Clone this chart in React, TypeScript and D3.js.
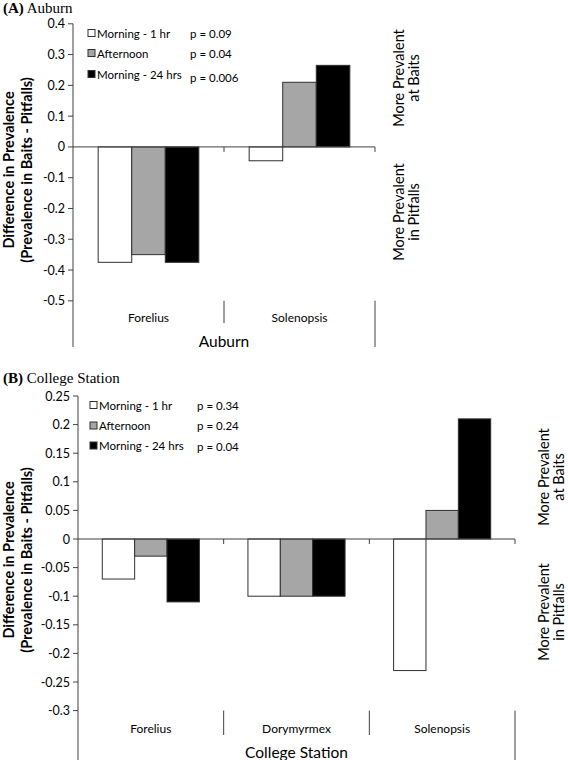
import React from "react";
import * as d3 from "d3";

const seriesNames = ["Morning - 1 hr", "Afternoon", "Morning - 24 hrs"];
const seriesFills = ["#ffffff", "#a6a6a6", "#000000"];

const auburnCategories = ["Forelius", "Solenopsis"];
const auburnMorning1hr = [-0.375, -0.045];
const auburnAfternoon = [-0.35, 0.21];
const auburnMorning24hrs = [-0.375, 0.265];
const auburnPValues = ["p = 0.09", "p = 0.04", "p = 0.006"];
const auburnTicks = [0.4, 0.3, 0.2, 0.1, 0, -0.1, -0.2, -0.3, -0.4, -0.5];

const csCategories = ["Forelius", "Dorymyrmex", "Solenopsis"];
const csMorning1hr = [-0.07, -0.1, -0.23];
const csAfternoon = [-0.03, -0.1, 0.05];
const csMorning24hrs = [-0.11, -0.1, 0.21];
const csPValues = ["p = 0.34", "p = 0.24", "p = 0.04"];
const csTicks = [0.25, 0.2, 0.15, 0.1, 0.05, 0, -0.05, -0.1, -0.15, -0.2, -0.25, -0.3];

const FONT = "Lato, 'Open Sans', sans-serif";
const AXIS = "#404040";

type PanelProps = {
  letter: string;
  site: string;
  categories: string[];
  series: number[][];
  pValues: string[];
  ticks: number[];
  L: {
    x0: number; x1: number; yTop: number; yBot: number;
    axisBottom: number; sepBottom: number; catY: number; siteY: number;
    titleY: number; legendX: number; pX: number; legendY: number[]; pY: number[];
    yTitleY: number; rightX1: number; rightX2: number; rightUpY: number; rightDownY: number;
  };
};

function Panel({ letter, site, categories, series, pValues, ticks, L }: PanelProps) {
  const y = d3.scaleLinear().domain([ticks[ticks.length - 1], ticks[0]]).range([L.yBot, L.yTop]);
  const x = d3.scaleBand().domain(categories).range([L.x0, L.x1]).paddingInner(0).paddingOuter(0);
  const xi = d3.scaleBand().domain(seriesNames).range([0, x.step()]).paddingInner(0).paddingOuter(0.75);
  const y0 = y(0);
  const boundaries = categories.map((c) => (x(c) as number) + x.step());
  return (
    <g>
      <text x={3} y={L.titleY} fontFamily="'Liberation Serif', 'Times New Roman', serif" fontSize={15}>
        <tspan fontWeight="bold">({letter})</tspan> {site}
      </text>
      {/* bars */}
      {series.map((vals, si) =>
        categories.map((c, ci) => {
          const v = vals[ci];
          const bx = (x(c) as number) + (xi(seriesNames[si]) as number);
          return (
            <rect key={si + "-" + ci} x={bx} y={Math.min(y(v), y0)} width={xi.bandwidth()}
              height={Math.abs(y(v) - y0)} fill={seriesFills[si]} stroke="#303030" strokeWidth={1} />
          );
        })
      )}
      {/* y axis */}
      <line x1={L.x0} x2={L.x0} y1={L.yTop} y2={L.axisBottom} stroke={AXIS} />
      {ticks.map((t) => (
        <g key={t}>
          <line x1={L.x0 - 5} x2={L.x0} y1={y(t)} y2={y(t)} stroke={AXIS} />
          <text x={L.x0 - 8} y={y(t)} textAnchor="end" dominantBaseline="central"
            fontFamily={FONT} fontSize={12.5}>{String(t)}</text>
        </g>
      ))}
      {/* zero line */}
      <line x1={L.x0} x2={L.x1} y1={y0} y2={y0} stroke={AXIS} />
      {boundaries.map((b) => (
        <line key={"zt" + b} x1={b} x2={b} y1={y0} y2={y0 + 5} stroke={AXIS} />
      ))}
      {/* category axis */}
      {boundaries.map((b, i) => (
        <line key={"sep" + b} x1={b} x2={b} y1={L.yBot} y2={i === boundaries.length - 1 ? L.axisBottom : L.sepBottom} stroke={AXIS} />
      ))}
      {categories.map((c) => (
        <text key={"cl" + c} x={(x(c) as number) + x.step() / 2} y={L.catY} textAnchor="middle"
          dominantBaseline="central" fontFamily={FONT} fontSize={12}>{c}</text>
      ))}
      <text x={(L.x0 + L.x1) / 2} y={L.siteY} textAnchor="middle" dominantBaseline="central"
        fontFamily={FONT} fontSize={15.5}>{site}</text>
      {/* legend */}
      {seriesNames.map((s, i) => (
        <g key={"lg" + s}>
          <rect x={L.legendX} y={L.legendY[i] - 3.5} width={7} height={7} fill={seriesFills[i]} stroke="#303030" />
          <text x={L.legendX + 9} y={L.legendY[i]} dominantBaseline="central" fontFamily={FONT} fontSize={11.5}>{s}</text>
          <text x={L.pX} y={L.pY[i]} dominantBaseline="central" fontFamily={FONT} fontSize={11.5}>{pValues[i]}</text>
        </g>
      ))}
      {/* y title */}
      <g transform={`translate(8,${L.yTitleY}) rotate(-90)`}>
        <text textAnchor="middle" dominantBaseline="central" fontFamily={FONT} fontSize={14.5} fontWeight="bold">Difference in Prevalence</text>
      </g>
      <g transform={`translate(26,${L.yTitleY}) rotate(-90)`}>
        <text textAnchor="middle" dominantBaseline="central" fontFamily={FONT} fontSize={14.5} fontWeight="bold">(Prevalence in Baits - Pitfalls)</text>
      </g>
      {/* right labels */}
      <g transform={`translate(${L.rightX1},${L.rightUpY}) rotate(-90)`}>
        <text textAnchor="middle" dominantBaseline="central" fontFamily={FONT} fontSize={14.5}>More Prevalent</text>
      </g>
      <g transform={`translate(${L.rightX2},${L.rightUpY}) rotate(-90)`}>
        <text textAnchor="middle" dominantBaseline="central" fontFamily={FONT} fontSize={14.5}>at Baits</text>
      </g>
      <g transform={`translate(${L.rightX1},${L.rightDownY}) rotate(-90)`}>
        <text textAnchor="middle" dominantBaseline="central" fontFamily={FONT} fontSize={14.5}>More Prevalent</text>
      </g>
      <g transform={`translate(${L.rightX2},${L.rightDownY}) rotate(-90)`}>
        <text textAnchor="middle" dominantBaseline="central" fontFamily={FONT} fontSize={14.5}>in Pitfalls</text>
      </g>
    </g>
  );
}

export default function App() {
  return (
    <svg width={568} height={760} style={{ position: "absolute", left: 0, top: 0, background: "#fff" }}>
      <rect width={568} height={760} fill="#fff" />
      <Panel
        letter="A"
        site="Auburn"
        categories={auburnCategories}
        series={[auburnMorning1hr, auburnAfternoon, auburnMorning24hrs]}
        pValues={auburnPValues}
        ticks={auburnTicks}
        L={{
          x0: 73, x1: 375, yTop: 23.8, yBot: 300.8, axisBottom: 347, sepBottom: 323,
          catY: 317, siteY: 341, titleY: 13, legendX: 88, pX: 190,
          legendY: [33, 53, 74], pY: [33, 53, 77], yTitleY: 170,
          rightX1: 398, rightX2: 413, rightUpY: 78, rightDownY: 212,
        }}
      />
      <Panel
        letter="B"
        site="College Station"
        categories={csCategories}
        series={[csMorning1hr, csAfternoon, csMorning24hrs]}
        pValues={csPValues}
        ticks={csTicks}
        L={{
          x0: 78, x1: 515, yTop: 396, yBot: 710.6, axisBottom: 760, sepBottom: 735,
          catY: 728, siteY: 752, titleY: 383, legendX: 90, pX: 197,
          legendY: [405, 425.5, 445.5], pY: [405, 425.5, 446.5], yTitleY: 560,
          rightX1: 543, rightX2: 558, rightUpY: 477, rightDownY: 612,
        }}
      />
    </svg>
  );
}
